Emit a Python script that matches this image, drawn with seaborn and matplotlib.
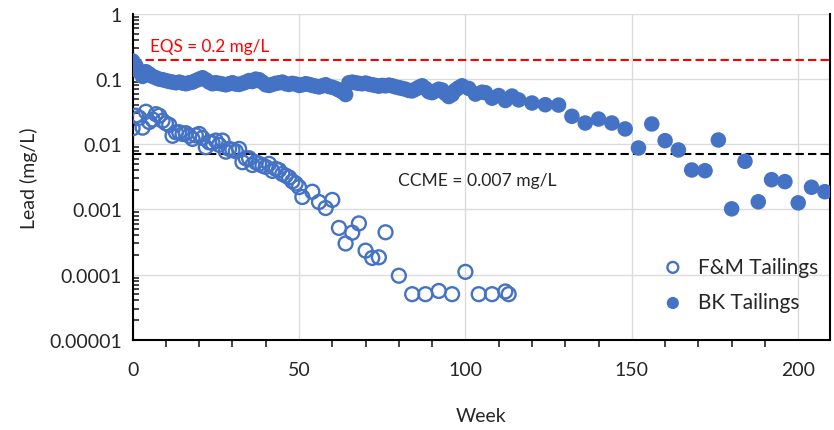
import numpy as np
import pandas as pd
import matplotlib
matplotlib.use("Agg")
import matplotlib.pyplot as plt
from matplotlib.ticker import FixedLocator, FixedFormatter, LogLocator, MultipleLocator, NullFormatter
import seaborn as sns

# ---- data -------------------------------------------------------------
fm_weeks = list(range(0, 50)) + [50, 51, 54, 56, 58, 60, 62, 64, 66, 68, 70, 72, 74, 76,
                                 80, 84, 88, 92, 96, 100, 104, 108, 112, 113]
fm_lead = [0.0176, 0.0275, 0.0255, 0.018, 0.0316, 0.022, 0.024, 0.029, 0.0275, 0.023,
           0.021, 0.0198, 0.0135, 0.0153, 0.0153, 0.0144, 0.0148, 0.0135, 0.0121, 0.0137,
           0.0144, 0.0125, 0.009, 0.0107, 0.0105, 0.0114, 0.0098, 0.0114, 0.0077, 0.0085,
           0.0082, 0.0078, 0.0085, 0.0053, 0.0061, 0.0061, 0.0048, 0.0053, 0.0050, 0.0047,
           0.0045, 0.0050, 0.0039, 0.0042, 0.0040, 0.0035, 0.0033, 0.0031, 0.0027, 0.0025,
           0.0022, 0.00155, 0.00187, 0.0013, 0.00105, 0.0014, 0.00052, 0.0003, 0.00044,
           0.00061, 0.000233, 0.00018, 0.000184, 0.000446, 0.000096, 0.00005, 0.00005,
           0.000056, 0.00005, 0.00011, 0.00005, 0.00005, 0.000055, 0.00005]

bk_weeks = list(range(0, 100)) + [101, 103, 105, 106, 108, 110, 112, 114, 116, 120, 124,
                                  128, 132, 136, 140, 144, 148, 152, 156, 160, 164, 168,
                                  172, 176, 180, 184, 188, 192, 196, 200, 204, 208]
bk_lead = [0.19, 0.16, 0.13, 0.11, 0.13, 0.12, 0.11, 0.105, 0.10, 0.098,
           0.095, 0.092, 0.09, 0.088, 0.09, 0.087, 0.085, 0.088, 0.09, 0.095,
           0.10, 0.105, 0.098, 0.09, 0.085, 0.088, 0.086, 0.084, 0.082, 0.085,
           0.088, 0.084, 0.083, 0.086, 0.09, 0.095, 0.092, 0.10, 0.098, 0.09,
           0.082, 0.08, 0.083, 0.086, 0.088, 0.09, 0.085, 0.083, 0.086, 0.084,
           0.08, 0.082, 0.085, 0.083, 0.08, 0.078, 0.076, 0.079, 0.082, 0.077,
           0.075, 0.072, 0.068, 0.064, 0.058, 0.088, 0.09, 0.088, 0.086, 0.085,
           0.087, 0.084, 0.082, 0.08, 0.078, 0.08, 0.079, 0.081, 0.079, 0.076,
           0.074, 0.072, 0.07, 0.067, 0.066, 0.07, 0.075, 0.079, 0.072, 0.064,
           0.062, 0.066, 0.07, 0.068, 0.06, 0.054, 0.058, 0.068, 0.074, 0.079,
           0.072, 0.059, 0.063, 0.062, 0.051, 0.056, 0.047, 0.055, 0.048, 0.043, 0.0405,
           0.040, 0.0269, 0.0212, 0.0244, 0.0212, 0.0172, 0.00877, 0.0205, 0.01136, 0.00818,
           0.00403, 0.00393, 0.01164, 0.00102, 0.00548, 0.00131, 0.00286, 0.00267, 0.00126,
           0.00219, 0.00187]

eqs_limit = 0.2
ccme_limit = 0.007
y_ticks = [1e-5, 1e-4, 1e-3, 1e-2, 1e-1, 1]
y_tick_labels = ["0.00001", "0.0001", "0.001", "0.01", "0.1", "1"]
x_ticks = [0, 50, 100, 150, 200]

# ---- style ------------------------------------------------------------
sns.set_theme(style="white")
plt.rcParams["font.family"] = ["Lato", "DejaVu Sans"]
text_color = "#262626"
blue = "#4472C4"

fig = plt.figure(figsize=(8.34, 4.31), dpi=100)
ax = fig.add_axes([0.159, 0.2095, 0.836, 0.7557])

fm = pd.DataFrame({"Week": fm_weeks, "Lead": fm_lead})
bk = pd.DataFrame({"Week": bk_weeks, "Lead": bk_lead})

ax.set_yscale("log")
ax.set_xlim(0, 209.5)
ax.set_ylim(1e-5, 1)

# reference limits
ax.axhline(eqs_limit, color="#FF0000", lw=1.5, dashes=(4, 2), zorder=2)
ax.axhline(ccme_limit, color="black", lw=1.5, dashes=(4, 2), zorder=2)
ax.text(5.2, 0.32, "EQS = 0.2 mg/L", color="#FF0000", fontsize=12.3, va="center", ha="left")
ax.text(79.7, 0.00283, "CCME = 0.007 mg/L", color=text_color, fontsize=12.6, va="center", ha="left")

sns.scatterplot(data=fm, x="Week", y="Lead", ax=ax, marker="o", s=100,
                facecolors="none", edgecolor=blue, linewidth=1.7,
                label="F&M Tailings", zorder=3)
sns.scatterplot(data=bk, x="Week", y="Lead", ax=ax, marker="o", s=125,
                color=blue, edgecolor="none", linewidth=0,
                label="BK Tailings", zorder=3)

# grid
ax.grid(True, which="major", color="#DCDCDC", lw=1, zorder=0)
ax.set_axisbelow(True)

# ticks
ax.yaxis.set_major_locator(FixedLocator(y_ticks))
ax.yaxis.set_major_formatter(FixedFormatter(y_tick_labels))
ax.yaxis.set_minor_locator(LogLocator(base=10, subs=np.arange(2, 10), numticks=20))
ax.yaxis.set_minor_formatter(NullFormatter())
ax.xaxis.set_major_locator(FixedLocator(x_ticks))
ax.xaxis.set_minor_locator(MultipleLocator(10))
ax.tick_params(axis="y", which="major", direction="inout", length=7, width=1.5,
               labelsize=14, labelcolor=text_color, pad=4)
ax.tick_params(axis="y", which="minor", direction="in", length=4, width=1.2, left=True)
ax.tick_params(axis="x", which="major", direction="out", length=5, width=1.5,
               labelsize=14, labelcolor=text_color, pad=10)
ax.tick_params(axis="x", which="minor", direction="out", length=5, width=1.2, bottom=True)

for side in ["left", "bottom", "right"]:
    ax.spines[side].set_color("black")
    ax.spines[side].set_linewidth(1.5)
ax.spines["top"].set_visible(False)

ax.set_xlabel("Week", fontsize=14, color=text_color, labelpad=21)
ax.set_ylabel("Lead (mg/L)", fontsize=14, color=text_color, labelpad=8)

leg = ax.legend(loc="upper left", bbox_to_anchor=(0.733, 0.28), frameon=False,
                fontsize=15, handletextpad=0.2, labelspacing=0.75, borderaxespad=0,
                markerscale=0.78)
for t in leg.get_texts():
    t.set_color(text_color)

fig.savefig("out.png", dpi=100)
